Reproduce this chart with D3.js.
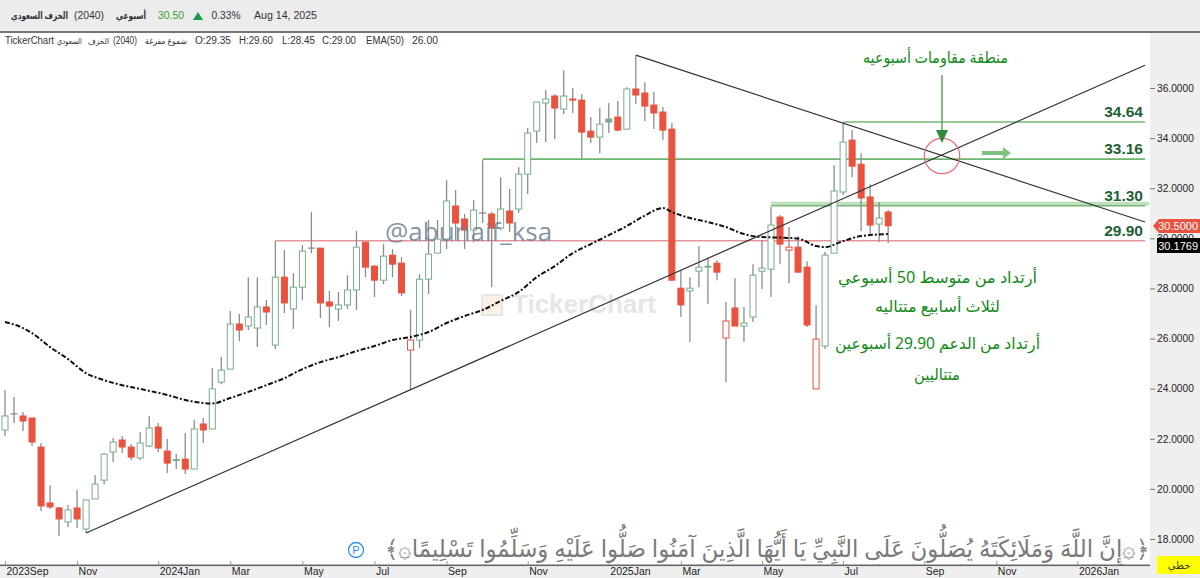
<!DOCTYPE html>
<html>
<head>
  <meta charset="utf-8">
  <title>2040 weekly</title>
  <script src="https://d3js.org/d3.v7.min.js"></script>
  <style>
    html, body { margin: 0; padding: 0; background: #fff; overflow: hidden; }
    text { font-family: "Liberation Sans", Arial, sans-serif; }
    .ar { font-family: "Noto Sans", "DejaVu Sans", sans-serif; direction: rtl; }
  </style>
</head>
<body>
  <svg width="1200" height="578"></svg>
<script>

// weekly candles (one entry per week, starting 2023 Sep)
const opens = [22.35,22.99,22.91,22.83,21.67,19.44,19.24,18.68,19.24,18.40,19.60,20.35,21.47,21.95,21.67,21.23,21.71,22.47,21.51,21.13,21.19,20.79,22.59,22.39,24.26,24.78,26.58,26.50,26.42,27.26,25.74,28.45,27.18,28.05,29.61,29.61,27.46,27.18,27.34,27.94,29.85,28.89,28.33,29.33,29.01,25.54,25.94,28.37,29.41,29.97,31.29,30.77,30.33,31.01,30.97,30.41,31.09,31.17,32.56,34.28,35.40,35.68,35.16,35.56,35.52,34.28,34.04,34.76,34.84,34.36,35.96,35.80,35.32,35.04,34.36,28.01,27.90,28.69,28.89,29.01,26.02,27.22,26.50,26.86,28.69,28.77,30.85,29.53,29.65,28.85,23.99,25.70,29.41,31.85,33.92,32.96,31.65,30.57,31.05];
const highs = [23.95,23.67,23.07,22.83,21.83,20.15,19.28,19.36,19.96,19.56,20.55,21.43,22.03,22.11,21.79,22.27,22.91,22.63,21.99,21.39,22.23,22.75,22.83,24.82,25.26,27.10,26.98,28.45,28.45,27.54,29.89,29.53,28.61,29.73,31.05,29.61,27.90,27.86,28.53,30.29,29.85,28.93,29.77,29.57,29.25,27.14,28.57,30.73,30.73,32.32,31.93,30.97,31.53,33.12,31.05,32.44,31.97,32.84,34.40,35.44,35.92,35.76,36.71,36.00,35.76,34.84,35.20,35.40,35.48,36.03,37.31,36.23,35.84,35.24,34.60,28.73,28.45,29.69,29.21,29.13,27.46,28.41,27.26,28.97,29.93,31.25,30.93,30.45,30.09,29.09,27.34,29.45,32.92,34.60,34.32,33.40,32.16,31.45,31.13];
const lows = [22.11,22.63,22.31,21.71,19.12,19.20,18.12,18.48,18.44,18.24,19.60,20.19,21.07,21.43,21.15,21.15,21.67,21.47,20.63,20.79,20.59,20.79,21.83,22.39,24.18,24.78,25.90,26.34,25.66,26.54,25.58,27.02,26.38,27.54,29.41,26.82,26.46,26.70,27.18,27.14,28.45,27.66,28.17,28.45,27.70,23.95,25.62,27.78,29.41,29.57,29.93,29.57,29.85,30.61,28.05,30.33,30.25,31.01,31.77,33.80,33.84,33.96,34.96,35.00,33.20,33.80,33.40,34.20,34.28,34.36,35.36,34.68,34.36,33.92,28.33,26.86,25.86,28.05,27.38,28.33,24.26,26.50,25.86,26.66,27.98,27.66,28.97,28.21,28.65,26.46,23.99,25.58,29.41,31.73,32.44,30.29,30.13,29.85,29.81];
const closes = [22.91,22.99,22.71,21.87,19.32,19.28,18.80,19.16,18.80,19.56,20.19,21.39,21.87,21.67,21.27,21.83,22.43,21.63,21.03,21.17,20.79,22.39,22.35,23.99,24.74,26.58,26.34,26.86,27.26,27.06,28.45,27.42,28.05,29.49,29.61,27.42,27.30,27.34,27.94,29.65,28.85,28.33,29.29,28.97,27.82,25.94,28.37,29.37,29.97,31.49,30.61,30.33,31.13,31.01,30.41,31.17,30.61,32.56,34.20,35.44,35.56,35.20,35.68,35.52,34.24,34.04,34.56,34.64,34.32,35.96,35.72,35.28,35.00,34.32,28.33,27.34,28.01,28.85,28.85,28.65,26.70,26.50,26.62,28.53,28.81,30.53,29.77,29.65,28.65,26.54,25.98,29.33,31.89,33.84,32.88,31.61,30.53,30.81,30.50];

// EMA(50) read at these candle positions
const emaIdx = [0,2,3,5,7,9,11,13,15,18,20,22,23,25,27,29,31,33,35,37,39,41,43,45,47,49,51,53,55,57,59,61,63,65,67,69,71,73,74,76,78,80,82,84,86,88,90,91,93,95,98];
const emaVal = [26.66,26.42,26.22,25.66,25.18,24.62,24.34,24.14,23.99,23.75,23.55,23.43,23.41,23.63,23.87,24.14,24.42,24.78,25.06,25.26,25.50,25.70,25.94,26.06,26.26,26.62,26.90,27.14,27.50,27.86,28.45,28.89,29.41,29.77,30.13,30.49,30.91,31.21,31.05,30.81,30.65,30.45,30.17,30.05,30.03,29.99,29.69,29.65,29.89,30.09,30.17];

const priceTicks = [18,20,22,24,26,28,30,32,34,36];
const monthIdx = [0,8,17,25,33,41,49,58,67,75,84,93,102,110,119];
const monthLabels = ['2023Sep','Nov','2024Jan','Mar','May','Jul','Sep','Nov','2025Jan','Mar','May','Jul','Sep','Nov','2026Jan'];

// horizontal levels: price, first candle, colour, label
const levelPrice = [34.64,33.16,31.30,29.90];
const levelStart = [93,53,85,30];
const levelColor = ['#74b874','#6db56d','#74b874','#d9606c'];
const levelWidth = [1.5,1.6,1.5,1];
const levelLabel = ['34.64','33.16','31.30','29.90'];

const lastIdx = 126.5;
const W = 1200, H = 578;

let svg = d3.select('svg');
let x = d3.scaleLinear().domain([0, lastIdx]).range([5, 1145]);
let y = d3.scaleLinear().domain([18, 36]).range([539, 88]);

// panels
svg.append('rect').attr('width', W).attr('height', H).attr('fill', '#fff');
svg.append('rect').attr('width', W).attr('height', 31).attr('fill', '#ececec');
svg.append('rect').attr('x', 0).attr('y', 31).attr('width', W).attr('height', 2).attr('fill', '#777');
svg.append('rect').attr('x', 1150).attr('y', 33).attr('width', 50).attr('height', H - 33).attr('fill', '#efefef');
svg.append('rect').attr('x', 0).attr('y', 566).attr('width', W).attr('height', 12).attr('fill', '#efefef');
svg.append('rect').attr('x', 0).attr('y', 564.5).attr('width', 1150).attr('height', 1.6).attr('fill', '#666');

// watermark
let wm = svg.append('g');
wm.append('rect').attr('x', 482).attr('y', 295).attr('width', 20).attr('height', 20)
  .attr('fill', '#fbf1e6').attr('stroke', '#e6e6e6').attr('stroke-width', 2);
wm.append('text').attr('x', 512).attr('y', 313).attr('font-size', 26).attr('font-weight', 'bold')
  .attr('fill', '#e6e6e6').text('TickerChart');

// levels
let levels = d3.range(levelPrice.length);
svg.append('rect')
  .attr('x', x(85)).attr('width', 1149 - x(85))
  .attr('y', y(31.30) - 4).attr('height', 4)
  .attr('fill', '#bfe0bd');
svg.selectAll('.level').data(levels).enter().append('line')
  .attr('x1', i => x(levelStart[i])).attr('x2', x(lastIdx))
  .attr('y1', i => y(levelPrice[i])).attr('y2', i => y(levelPrice[i]))
  .attr('stroke', i => levelColor[i]).attr('stroke-width', i => levelWidth[i]);

// candles
let ids = d3.range(opens.length);
let isDoji = i => opens[i] === closes[i];
let isGreen = i => i === 0 || closes[i] >= closes[i - 1];
let candleColor = i => isGreen(i) ? '#76ad8c' : '#e8523f';

svg.selectAll('.wick').data(ids).enter().append('line')
  .attr('x1', i => x(i)).attr('x2', i => x(i))
  .attr('y1', i => y(highs[i])).attr('y2', i => y(lows[i]))
  .attr('stroke', '#8c8c8c').attr('stroke-width', 1.3);

svg.selectAll('.body').data(ids.filter(i => !isDoji(i))).enter().append('rect')
  .attr('x', i => x(i) - 3).attr('width', 6)
  .attr('y', i => y(Math.max(opens[i], closes[i])))
  .attr('height', i => Math.max(1, Math.abs(y(opens[i]) - y(closes[i]))))
  .attr('fill', i => closes[i] > opens[i] ? '#fff' : candleColor(i))
  .attr('stroke', i => candleColor(i)).attr('stroke-width', 1);

svg.selectAll('.doji').data(ids.filter(isDoji)).enter().append('line')
  .attr('x1', i => x(i) - 3.5).attr('x2', i => x(i) + 3.5)
  .attr('y1', i => y(closes[i])).attr('y2', i => y(closes[i]))
  .attr('stroke', '#8c8c8c').attr('stroke-width', 1.3);

// ema
let emaLine = d3.line().x((d, i) => x(emaIdx[i])).y(d => y(d)).curve(d3.curveMonotoneX);
svg.append('path').datum(emaVal).attr('d', emaLine)
  .attr('fill', 'none').attr('stroke', '#111').attr('stroke-width', 2)
  .attr('stroke-dasharray', '5,2,2,2');

// trend lines
const trendIdx = [[9, lastIdx], [70, lastIdx]];
const trendPrice = [[18.24, 36.91], [37.31, 30.65]];
trendIdx.forEach((t, k) => {
  svg.append('line')
    .attr('x1', x(t[0])).attr('x2', x(t[1]))
    .attr('y1', y(trendPrice[k][0])).attr('y2', y(trendPrice[k][1]))
    .attr('stroke', '#333').attr('stroke-width', 1.2);
});

// resistance circle and arrows
svg.append('circle').attr('cx', 942).attr('cy', 156).attr('r', 17.7)
  .attr('fill', 'none').attr('stroke', '#ee6a78').attr('stroke-width', 1.2);
svg.append('line').attr('x1', 942).attr('x2', 942).attr('y1', 75).attr('y2', 132)
  .attr('stroke', '#66a866').attr('stroke-width', 1.6);
svg.append('path').attr('d', 'M936,130L948,130L942,143Z').attr('fill', '#2f8a3c');
svg.append('line').attr('x1', 982).attr('x2', 1003).attr('y1', 153).attr('y2', 153)
  .attr('stroke', '#7cc27a').attr('stroke-width', 4);
svg.append('path').attr('d', 'M1003,147L1011,153L1003,159Z').attr('fill', '#7cc27a');

// level labels
svg.selectAll('.lvl').data(levels).enter().append('text')
  .attr('x', 1143).attr('y', i => y(levelPrice[i]) - 5)
  .attr('text-anchor', 'end').attr('font-size', 15.5).attr('font-weight', 'bold')
  .attr('fill', '#1f5f35').text(i => levelLabel[i]);

// handle
svg.append('text').attr('x', 385).attr('y', 241).attr('font-size', 26)
  .style('font-family', '"Open Sans", sans-serif')
  .attr('fill', '#6f7f94').attr('fill-opacity', 0.85).text('@abunaif_ksa');

// green notes
const noteText = ['منطقة مقاومات أسبوعيه', 'أرتداد من متوسط 50 أسبوعي', 'لثلاث أسابيع متتاليه', 'أرتداد من الدعم 29.90 أسبوعين', 'متتاليين'];
const noteY = [63, 283, 312, 349, 380];
const noteX = [935.5, 937.5, 937.5, 937.5, 937];
const noteW = [145, 199, 125, 205, 46];
noteText.forEach((t, k) => {
  svg.append('text').attr('class', 'ar')
    .attr('x', noteX[k]).attr('y', noteY[k]).attr('text-anchor', 'middle')
    .attr('textLength', noteW[k]).attr('lengthAdjust', 'spacingAndGlyphs')
    .attr('font-size', 16).attr('fill', '#118a18').text(t);
});

// axes
let yAxis = d3.axisRight(y).tickValues(priceTicks).tickSize(5).tickPadding(2).tickFormat(d => d.toFixed(4));
let gy = svg.append('g').attr('transform', 'translate(1150,0)').call(yAxis);
gy.select('.domain').remove();
gy.selectAll('line').attr('stroke', '#777');
gy.selectAll('text').attr('font-size', 10.2).attr('fill', '#222');
gy.attr('font-family', null);

let xAxis = d3.axisBottom(x).tickValues(monthIdx).tickSize(-4).tickPadding(3)
  .tickFormat(d => monthLabels[monthIdx.indexOf(d)]);
let gx = svg.append('g').attr('transform', 'translate(0,565)').call(xAxis);
gx.select('.domain').remove();
gx.selectAll('line').attr('stroke', '#999');
gx.selectAll('text').attr('font-size', 10.5).attr('fill', '#222').attr('text-anchor', 'start').attr('dx', 1);

// price tags
svg.append('path').attr('d', 'M1153,226L1159,219L1200,219L1200,233L1159,233Z').attr('fill', '#e8523f');
svg.append('text').attr('x', 1198).attr('y', 230).attr('text-anchor', 'end')
  .attr('font-size', 11).attr('fill', '#fff').text('30.5000');
svg.append('rect').attr('x', 1157).attr('y', 238).attr('width', 43).attr('height', 15).attr('fill', '#000');
svg.append('text').attr('x', 1198).attr('y', 249.5).attr('text-anchor', 'end')
  .attr('font-size', 11).attr('fill', '#fff').text('30.1769');

// verse along the bottom
svg.append('circle').attr('cx', 356).attr('cy', 550).attr('r', 7.5)
  .attr('fill', '#fff').attr('stroke', '#2f8fe8').attr('stroke-width', 1.3);
svg.append('text').attr('x', 356).attr('y', 554).attr('text-anchor', 'middle')
  .attr('font-size', 11).attr('fill', '#2f8fe8').text('P');
svg.append('text').attr('class', 'ar').attr('x', 767).attr('y', 557).attr('text-anchor', 'middle')
  .attr('textLength', 764).attr('lengthAdjust', 'spacingAndGlyphs')
  .attr('font-size', 24).attr('fill', '#7a7a7a')
  .text('﴿۞إِنَّ اللَّهَ وَمَلَائِكَتَهُ يُصَلُّونَ عَلَى النَّبِيِّ يَا أَيُّهَا الَّذِينَ آمَنُوا صَلُّوا عَلَيْهِ وَسَلِّمُوا تَسْلِيمًا۞﴾');

// yellow chart type box
svg.append('rect').attr('x', 1157).attr('y', 556).attr('width', 43).attr('height', 18).attr('fill', '#ffff00');
svg.append('text').attr('class', 'ar').attr('x', 1179).attr('y', 569).attr('text-anchor', 'middle')
  .attr('font-size', 10).attr('fill', '#333').text('خطي');

// header bar, x is the middle of each text
const headText = ['الخزف السعودي', '(2040)', 'أسبوعي', '30.50', '0.33%', 'Aug 14, 2025'];
const headX = [39.5, 89, 131, 171, 226, 285.5];
const headLen = [57, 30, 30, 26, 29, 63];
const headColor = ['#333', '#333', '#333', '#3a9a2e', '#333', '#333'];
headText.forEach((t, k) => {
  let isAr = k === 0 || k === 2;
  let el = svg.append('text').attr('x', headX[k]).attr('y', 19).attr('text-anchor', 'middle')
    .attr('font-size', isAr ? 10 : 11.5)
    .attr('textLength', headLen[k]).attr('lengthAdjust', 'spacingAndGlyphs')
    .attr('fill', headColor[k]).attr('font-weight', isAr ? 'bold' : 'normal').text(t);
  if (isAr) el.attr('class', 'ar');
});
svg.append('path').attr('d', 'M193,20L203,20L198,12Z').attr('fill', '#129a48');

// legend row, x is the middle of each text
const legendText = ['TickerChart', 'السعودي', 'الخزف', '(2040)', 'شموع مفرغة', 'O:29.35', 'H:29.60', 'L:28.45', 'C:29.00', 'EMA(50)', '26.00'];
const legendX = [29.5, 69.5, 98.5, 125, 166, 213, 256, 298.5, 339, 385, 425];
const legendLen = [49, 25, 21, 24, 42, 36, 34, 33, 34, 38, 26];
legendText.forEach((t, k) => {
  let isAr = /[\u0600-\u06ff]/.test(t);
  let el = svg.append('text').attr('x', legendX[k]).attr('y', 44).attr('text-anchor', 'middle')
    .attr('font-size', isAr ? 8.5 : 10)
    .attr('textLength', legendLen[k]).attr('lengthAdjust', 'spacingAndGlyphs')
    .attr('fill', '#333').text(t);
  if (isAr) el.attr('class', 'ar');
});

</script>
</body>
</html>
